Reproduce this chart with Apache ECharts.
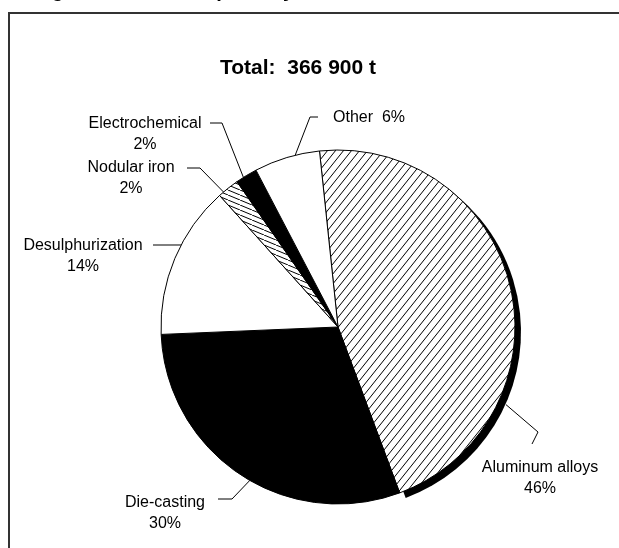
<!DOCTYPE html>
<html>
<head>
<meta charset="utf-8">
<script src="https://cdn.jsdelivr.net/npm/echarts@6/dist/echarts.min.js"></script>
<style>
  html, body { margin: 0; padding: 0; background: #fff; }
  #chart { width: 619px; height: 548px; }
</style>
</head>
<body>
<div id="chart"></div>
<script>
// Magnesium end uses, share of total consumption (%)
const uses   = ['Aluminum alloys', 'Die-casting', 'Desulphurization', 'Nodular iron', 'Electrochemical', 'Other'];
const shares = [46, 30, 14, 2, 2, 6];
const headline   = 'Magnesium consumption by use,';
const totalLabel = 'Total:  366 900 t';

// Pie geometry (pixels)
const CX = 338, CY = 327, R = 177;
const DROP = [6, 5];   // offset of the solid edge behind the large slice
const FONT = '"Liberation Sans", Arial, sans-serif';

// Label placement: text centre, leader elbow and end, leader anchor on the rim
// (angle in degrees clockwise from 12 o'clock, radius in px)
const labelSpots = [
  { x: 540, y: 478, align: 'center', mid: [538, 432], end: [532, 444], ang: 114.8, r: 185 },
  { x: 165, y: 513, align: 'center', mid: [232, 499], end: [218, 499], ang: 209.9, r: 177 },
  { x: 83,  y: 256, align: 'center', mid: [167, 245], end: [153, 245], ang: 297.6, r: 177 },
  { x: 131, y: 178, align: 'center', mid: [200, 168], end: [187, 168], ang: 319.7, r: 177 },
  { x: 145, y: 134, align: 'center', mid: [222, 123], end: [210, 123], ang: 327.7, r: 177 },
  { x: 333, y: 118, align: 'left',   mid: [310, 117], end: [318, 117], ang: 346.0, r: 177 }
];

// Hatch tiles: opaque white with thin black diagonals
function hatch(w, h, rising) {
  const c = document.createElement('canvas');
  c.width = w; c.height = h;
  const g = c.getContext('2d');
  g.fillStyle = '#fff';
  g.fillRect(0, 0, w, h);
  g.strokeStyle = '#000';
  g.lineWidth = 1;
  g.beginPath();
  for (const dx of [-w, 0, w]) {
    if (rising) { g.moveTo(dx, h); g.lineTo(dx + w, 0); }
    else        { g.moveTo(dx, 0); g.lineTo(dx + w, h); }
  }
  g.stroke();
  return c;
}
const fwdHatch  = { image: hatch(8, 10, true),  repeat: 'repeat' };
const flatHatch = { image: hatch(12, 5, false), repeat: 'repeat' };

const fills = [fwdHatch, '#000', '#fff', flatHatch, '#000', '#fff'];

const pieData = uses.map((name, i) => ({
  name,
  value: shares[i],
  itemStyle: { color: fills[i] }
}));

// Same slices, only the first one filled: drawn behind, shifted, as a solid edge
const dropData = uses.map((name, i) => ({
  name,
  value: shares[i],
  itemStyle: { color: i === 0 ? '#000' : 'rgba(0,0,0,0)' }
}));

const chart = echarts.init(document.getElementById('chart'), null, { renderer: 'canvas' });

chart.setOption({
  animation: false,
  backgroundColor: '#fff',
  graphic: [
    {
      type: 'rect',
      shape: { x: 9, y: 13, width: 700, height: 700 },
      style: { fill: 'none', stroke: '#333', lineWidth: 2 },
      silent: true
    },
    {
      type: 'text',
      x: 24, y: -9,
      style: {
        text: headline,
        font: 'bold 20px ' + FONT,
        fill: '#000',
        textAlign: 'left',
        textVerticalAlign: 'middle'
      },
      silent: true
    },
    {
      type: 'text',
      x: 298, y: 68,
      style: {
        text: totalLabel,
        font: 'bold 21px ' + FONT,
        fill: '#000',
        textAlign: 'center',
        textVerticalAlign: 'middle'
      },
      silent: true
    }
  ],
  series: [
    {
      type: 'pie',
      z: 1,
      silent: true,
      center: [CX + DROP[0], CY + DROP[1]],
      radius: [0, R],
      startAngle: 96,
      clockwise: true,
      emphasis: { disabled: true },
      itemStyle: { borderWidth: 0 },
      label: { show: false },
      labelLine: { show: false },
      data: dropData
    },
    {
      type: 'pie',
      z: 2,
      center: [CX, CY],
      radius: [0, R],
      startAngle: 96,
      clockwise: true,
      avoidLabelOverlap: false,
      emphasis: { disabled: true },
      itemStyle: { borderColor: '#000', borderWidth: 1 },
      label: {
        show: true,
        position: 'outside',
        color: '#000',
        fontFamily: FONT,
        fontSize: 16,
        lineHeight: 21,
        formatter: p => p.dataIndex === uses.length - 1
          ? p.name + '  ' + p.value + '%'
          : p.name + '\n' + p.value + '%'
      },
      labelLine: {
        show: true,
        length: 10,
        length2: 10,
        lineStyle: { color: '#000', width: 1 }
      },
      labelLayout: params => {
        const s = labelSpots[params.dataIndex];
        const a = s.ang * Math.PI / 180;
        const anchor = [CX + s.r * Math.sin(a), CY - s.r * Math.cos(a)];
        return {
          x: s.x,
          y: s.y,
          align: s.align,
          verticalAlign: 'middle',
          labelLinePoints: [anchor, s.mid, s.end]
        };
      },
      data: pieData
    }
  ]
});
</script>
</body>
</html>
